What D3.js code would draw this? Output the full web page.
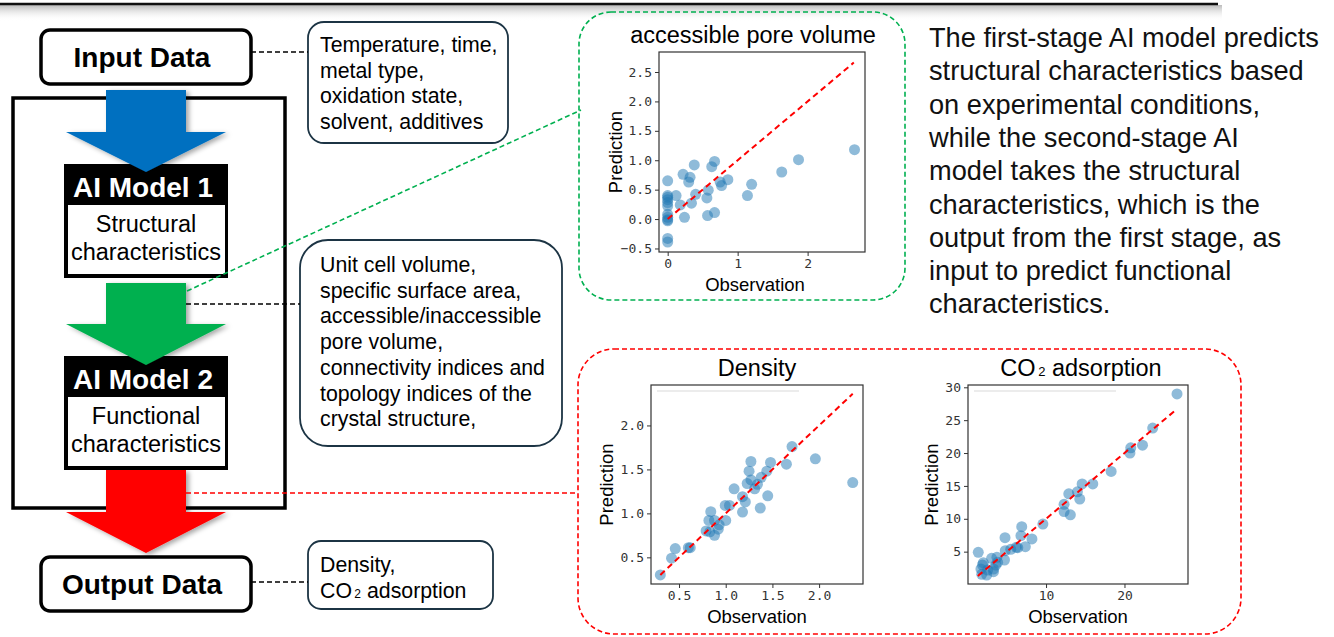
<!DOCTYPE html>
<html>
<head>
<meta charset="utf-8">
<script src="https://cdn.jsdelivr.net/npm/d3@7"></script>
<style>
  body { margin: 0; background: #fff; }
  svg { display: block; font-family: "Liberation Sans", Arial, sans-serif; }
</style>
</head>
<body>
<div id="chart"></div>
<script>
const width = 1334;
const height = 637;

// accessible pore volume (observation / prediction)
const poreObs = [0, 0, 0, 0, 0, 0, 0, 0, 0, 0, 0, 0, 0.12, 0.18, 0.22, 0.24, 0.3, 0.32, 0.34, 0.38, 0.4, 0.56, 0.58, 0.57, 0.63, 0.67, 0.67, 0.75, 0.77, 0.86, 1.14, 1.2, 1.63, 1.87, 2.67];
const porePred = [0.65, 0.4, 0.37, 0.33, 0.28, 0.22, 0.08, 0.03, -0.01, -0.03, -0.33, -0.39, 0.4, 0.24, 0.76, 0.03, 0.63, 0.71, 0.27, 0.92, 0.42, 0.36, 0.49, 0.06, 0.89, 0.98, 0.11, 0.63, 0.57, 0.67, 0.4, 0.59, 0.8, 1.01, 1.18];

// density
const densObs = [0.3, 0.42, 0.46, 0.6, 0.62, 0.79, 0.83, 0.82, 0.84, 0.88, 0.88, 0.92, 0.93, 1.0, 0.995, 1.04, 1.09, 1.18, 1.18, 1.21, 1.23, 1.25, 1.27, 1.27, 1.31, 1.34, 1.37, 1.38, 1.44, 1.45, 1.48, 1.65, 1.71, 1.96, 2.36];
const densPred = [0.3, 0.49, 0.6, 0.61, 0.61, 0.8, 0.79, 0.92, 1.02, 0.92, 0.75, 0.82, 0.87, 0.92, 1.09, 1.09, 1.28, 1.19, 1.015, 1.13, 1.34, 1.48, 1.59, 1.38, 1.28, 1.33, 1.06, 1.41, 1.48, 1.2, 1.58, 1.56, 1.76, 1.62, 1.35];

// CO2 adsorption
const co2Obs = [1.36, 1.7, 1.9, 2.0, 1.8, 2.43, 2.55, 3.06, 3.3, 3.3, 3.6, 3.74, 3.83, 4.7, 4.77, 4.8, 5.5, 6.2, 6.4, 6.8, 6.9, 7.36, 8.2, 9.6, 12.3, 12.3, 12.9, 13.1, 14.0, 14.3, 14.6, 15.96, 18.3, 20.7, 20.8, 22.3, 23.6, 26.7];
const co2Pred = [4.9, 2.36, 2.97, 3.3, 1.55, 1.45, 2.2, 3.99, 2.36, 1.96, 2.97, 4.14, 3.38, 3.73, 7.13, 5.15, 5.35, 5.66, 5.6, 7.43, 8.8, 5.76, 6.93, 9.2, 11.1, 12.2, 13.8, 10.6, 14.1, 13.0, 15.3, 15.3, 17.2, 20.0, 20.8, 21.2, 23.8, 29.0];

// ideal y = x reference lines
const poreLine = [0, 2.66];
const densLine = [0.3, 2.36];
const co2Line = [1.3, 26.7];

const poreXTicks = [0, 1, 2];
const poreYTicks = [-0.5, 0, 0.5, 1, 1.5, 2, 2.5];
const densXTicks = [0.5, 1, 1.5, 2];
const densYTicks = [0.5, 1, 1.5, 2];
const co2XTicks = [10, 20];
const co2YTicks = [5, 10, 15, 20, 25, 30];

const inputNotes = ["Temperature, time,", "metal type,", "oxidation state,", "solvent, additives"];
const structNotes = ["Unit cell volume,", "specific surface area,", "accessible/inaccessible", "pore volume,", "connectivity indices and", "topology indices of the", "crystal structure,"];
const summaryLines = [
  "The first-stage AI model predicts",
  "structural characteristics based",
  "on experimental conditions,",
  "while the second-stage AI",
  "model takes the structural",
  "characteristics, which is the",
  "output from the first stage, as",
  "input to predict functional",
  "characteristics.",
];

const svg = d3
  .select("#chart")
  .append("svg")
  .attr("width", width)
  .attr("height", height);

const defs = svg.append("defs");
const shadow = defs.append("filter").attr("id", "shadow").attr("x", "-20%").attr("y", "-20%").attr("width", "150%").attr("height", "150%");
shadow.append("feDropShadow").attr("dx", 3).attr("dy", 2).attr("stdDeviation", 2.5).attr("flood-color", "#000").attr("flood-opacity", 0.35);
const topGrad = defs.append("linearGradient").attr("id", "topgrad").attr("x1", 0).attr("y1", 0).attr("x2", 0).attr("y2", 1);
topGrad.append("stop").attr("offset", "0%").attr("stop-color", "#bbb");
topGrad.append("stop").attr("offset", "100%").attr("stop-color", "#fff").attr("stop-opacity", 0);

// top rule with soft shadow
svg.append("rect").attr("x", 0).attr("y", 5).attr("width", 1222).attr("height", 16).attr("fill", "url(#topgrad)");
svg.append("line").attr("x1", 0).attr("x2", 1218).attr("y1", 4).attr("y2", 4).attr("stroke", "#111").attr("stroke-width", 2.5);

// ---------- left flow chart ----------
const flow = svg.append("g");

flow.append("rect")
  .attr("x", 13).attr("y", 98).attr("width", 272).attr("height", 410)
  .attr("fill", "none").attr("stroke", "#000").attr("stroke-width", 3.5);

const arrowPath = (cx, yTop, yNeck, yTip) =>
  `M${cx - 40},${yTop} H${cx + 40} V${yNeck} H${cx + 80} L${cx},${yTip} L${cx - 80},${yNeck} H${cx - 40} Z`;

const drawModelBox = (yTop, title, lines) => {
  const g = flow.append("g");
  g.append("rect").attr("x", 64).attr("y", yTop).attr("width", 164).attr("height", 114).attr("fill", "#000");
  g.append("rect").attr("x", 68).attr("y", yTop + 41).attr("width", 157).attr("height", 69).attr("fill", "#fff");
  g.append("text").attr("x", 143).attr("y", yTop + 33).attr("text-anchor", "middle")
    .attr("fill", "#fff").attr("font-weight", "bold").style("font-size", "28px").text(title);
  g.selectAll(".sub").data(lines).join("text")
    .attr("x", 146).attr("y", (d, i) => yTop + 68 + i * 27.5)
    .attr("text-anchor", "middle").style("font-size", "23.5px").text((d) => d);
};

drawModelBox(164, "AI Model 1", ["Structural", "characteristics"]);
drawModelBox(356, "AI Model 2", ["Functional", "characteristics"]);

const arrows = [
  { color: "#0070C0", top: 90, neck: 132, tip: 172 },
  { color: "#00B050", top: 283, neck: 324, tip: 365 },
  { color: "#FF0000", top: 470, neck: 512, tip: 553 },
];
flow.selectAll(".arrow").data(arrows).join("path")
  .attr("class", "arrow")
  .attr("d", (d) => arrowPath(146, d.top, d.neck, d.tip))
  .attr("fill", (d) => d.color)
  .attr("filter", "url(#shadow)");

const drawIOBox = (yTop, label) => {
  flow.append("rect").attr("x", 41).attr("y", yTop).attr("width", 210).attr("height", 54).attr("rx", 9)
    .attr("fill", "#fff").attr("stroke", "#000").attr("stroke-width", 3.5);
  flow.append("text").attr("x", 142).attr("y", yTop + 37).attr("text-anchor", "middle")
    .attr("font-weight", "bold").style("font-size", "28px").text(label);
};
drawIOBox(30, "Input Data");
drawIOBox(557, "Output Data");

// note boxes
const noteBox = (x, y, w, h, r) =>
  flow.append("rect").attr("x", x).attr("y", y).attr("width", w).attr("height", h).attr("rx", r)
    .attr("fill", "#fff").attr("stroke", "#1c3444").attr("stroke-width", 1.8);

const noteLines = (lines, x, y0, step) =>
  flow.append("g").selectAll("text").data(lines).join("text")
    .attr("x", x).attr("y", (d, i) => y0 + i * step)
    .style("font-size", "21.3px").text((d) => d);

noteBox(308, 22, 200, 121, 16);
noteLines(inputNotes, 320, 52, 25.5);
noteBox(300, 240, 262, 206, 28);
noteLines(structNotes, 320, 272, 25.7);
noteBox(308, 541, 185, 68, 13);
const outText = flow.append("g");
outText.append("text").attr("x", 320).attr("y", 572).style("font-size", "21.3px").text("Density,");
const co2t = outText.append("text").attr("x", 320).attr("y", 598).style("font-size", "21.3px");
co2t.append("tspan").text("CO");
co2t.append("tspan").style("font-size", "12px").text("\u20092");
co2t.append("tspan").text(" adsorption");

// dashed connectors
const dash = (x1, y1, x2, y2, color, w) =>
  svg.append("line").attr("x1", x1).attr("y1", y1).attr("x2", x2).attr("y2", y2)
    .attr("stroke", color).attr("stroke-width", w).attr("stroke-dasharray", "5,3");
dash(251, 52, 308, 52, "#000", 1.6);
dash(186, 304, 300, 304, "#000", 1.6);
dash(251, 582, 308, 582, "#000", 1.6);
dash(187, 291, 581, 110, "#00B050", 1.6);
dash(186, 493, 578, 493, "#FF0000", 1.6);

// highlight frames around the plots
svg.append("rect").attr("x", 579).attr("y", 12).attr("width", 326).attr("height", 288).attr("rx", 32)
  .attr("fill", "none").attr("stroke", "#00B050").attr("stroke-width", 1.6).attr("stroke-dasharray", "5,3");
svg.append("rect").attr("x", 578).attr("y", 349).attr("width", 663).attr("height", 285).attr("rx", 36)
  .attr("fill", "none").attr("stroke", "#FF0000").attr("stroke-width", 1.6).attr("stroke-dasharray", "5,3");

// ---------- scatter plots ----------
const drawScatter = (cfg) => {
  const g = svg.append("g");
  const x = d3.scaleLinear().domain(cfg.xDomain).range([cfg.x0, cfg.x1]);
  const y = d3.scaleLinear().domain(cfg.yDomain).range([cfg.y1, cfg.y0]);

  if (cfg.legendGhost) {
    g.append("line").attr("x1", cfg.x0 + 6).attr("x2", cfg.x0 + 148).attr("y1", cfg.y0 + 6).attr("y2", cfg.y0 + 6)
      .attr("stroke", "#e6e6e6").attr("stroke-width", 1.5);
  }

  const xAxis = d3.axisBottom(x).tickValues(cfg.xTicks).tickSize(4).tickPadding(3).tickFormat(cfg.xFormat);
  const yAxis = d3.axisLeft(y).tickValues(cfg.yTicks).tickSize(4).tickPadding(3).tickFormat(cfg.yFormat);
  const gx = g.append("g").attr("transform", `translate(0,${cfg.y1})`).call(xAxis);
  const gy = g.append("g").attr("transform", `translate(${cfg.x0},0)`).call(yAxis);
  [gx, gy].forEach((a) => {
    a.select(".domain").remove();
    a.selectAll("line").attr("stroke", "#333");
    a.selectAll("text").attr("fill", "#333")
      .style("font-family", "'DejaVu Sans Mono', 'Liberation Mono', monospace")
      .style("font-size", "13px");
  });

  g.append("g").selectAll("circle")
    .data(cfg.obs.map((o, i) => [o, cfg.pred[i]]))
    .join("circle")
    .attr("cx", (d) => x(d[0]))
    .attr("cy", (d) => y(d[1]))
    .attr("r", 5.5)
    .attr("fill", "#1f77b4")
    .attr("fill-opacity", 0.5);

  g.append("line")
    .attr("x1", x(cfg.line[0])).attr("y1", y(cfg.line[0]))
    .attr("x2", x(cfg.line[1])).attr("y2", y(cfg.line[1]))
    .attr("stroke", "#ff0000").attr("stroke-width", 2).attr("stroke-dasharray", "6,4");

  g.append("rect").attr("x", cfg.x0).attr("y", cfg.y0)
    .attr("width", cfg.x1 - cfg.x0).attr("height", cfg.y1 - cfg.y0)
    .attr("fill", "none").attr("stroke", "#333").attr("stroke-width", 1.2);

  const title = g.append("text").attr("x", cfg.titleX).attr("y", cfg.y0 - 9)
    .attr("text-anchor", "middle").style("font-size", "23.5px");
  cfg.title.forEach((t) => {
    const ts = title.append("tspan").text(t.text);
    if (t.sub) ts.style("font-size", "13px");
  });

  g.append("text").attr("x", cfg.xLabelX).attr("y", cfg.y1 + 39)
    .attr("text-anchor", "middle").style("font-size", "18.5px").text("Observation");
  g.append("text")
    .attr("transform", `translate(${cfg.yLabelX},${(cfg.y0 + cfg.y1) / 2}) rotate(-90)`)
    .attr("text-anchor", "middle").style("font-size", "18.5px").text("Prediction");
};

drawScatter({
  x0: 659, x1: 865, y0: 52, y1: 252,
  xDomain: [-0.124, 2.82], yDomain: [-0.56, 2.84],
  xTicks: poreXTicks, yTicks: poreYTicks,
  xFormat: d3.format("d"), yFormat: d3.format(".1f"),
  obs: poreObs, pred: porePred, line: poreLine,
  title: [{ text: "accessible pore volume" }], titleX: 753,
  xLabelX: 755, yLabelX: 622,
});

drawScatter({
  x0: 651, x1: 863, y0: 385, y1: 584,
  xDomain: [0.2, 2.47], yDomain: [0.197, 2.46],
  xTicks: densXTicks, yTicks: densYTicks,
  xFormat: d3.format(".1f"), yFormat: d3.format(".1f"),
  obs: densObs, pred: densPred, line: densLine,
  title: [{ text: "Density" }], titleX: 757,
  xLabelX: 757, yLabelX: 613, legendGhost: true,
});

drawScatter({
  x0: 968, x1: 1188, y0: 385, y1: 584,
  xDomain: [0.05, 28.1], yDomain: [0.08, 30.35],
  xTicks: co2XTicks, yTicks: co2YTicks,
  xFormat: d3.format("d"), yFormat: d3.format("d"),
  obs: co2Obs, pred: co2Pred, line: co2Line,
  title: [{ text: "CO" }, { text: "\u20092", sub: true }, { text: " adsorption" }], titleX: 1081,
  xLabelX: 1078, yLabelX: 938, legendGhost: true,
});

// ---------- explanation text ----------
svg.append("g").selectAll("text").data(summaryLines).join("text")
  .attr("x", 929)
  .attr("y", (d, i) => 47 + i * 33.3)
  .style("font-size", "27.2px")
  .attr("fill", "#111")
  .text((d) => d);
</script>
</body>
</html>
